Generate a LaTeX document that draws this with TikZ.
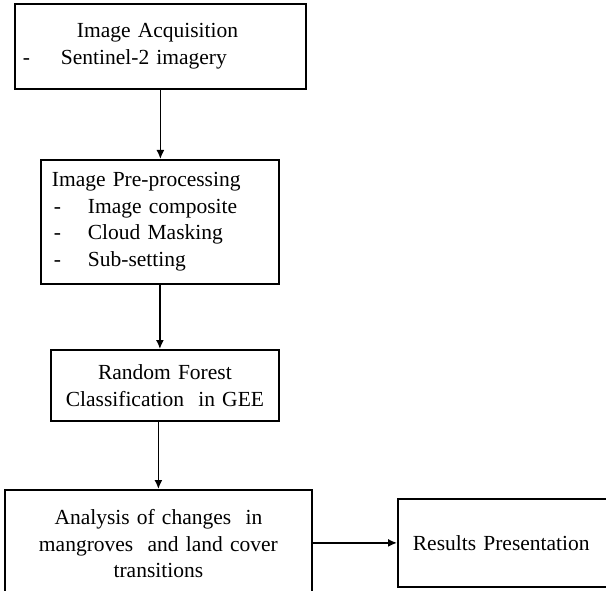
\documentclass[tikz,border=0pt]{standalone}
\usepackage{fontspec}
\setmainfont{Liberation Serif}
\usetikzlibrary{arrows.meta}
\tikzset{
  box/.style={draw, line width=1.8pt, inner ysep=0pt, anchor=north west,
    font=\fontsize{21.5pt}{26.5pt}\selectfont},
  arr/.style={line width=1.5pt, -{Latex[length=9pt,width=8pt]}}
}
\begin{document}
\begin{tikzpicture}[x=1pt,y=-1pt]
\useasboundingbox (0,0) rectangle (606,591);
\clip (0,0) rectangle (606,591);
\node[box, inner xsep=8pt, text width=275pt, minimum height=85pt, align=left] (b1) at (14,3)
  {\hspace*{54pt}Image Acquisition\\\makebox[38pt][l]{-}Sentinel-2 imagery};
\node[box, inner xsep=11pt, text width=216pt, minimum height=124pt, align=left] (b2) at (40,159)
  {Image Pre-processing\\
   \hspace*{2pt}\makebox[34pt][l]{-}Image composite\\
   \hspace*{2pt}\makebox[34pt][l]{-}Cloud Masking\\
   \hspace*{2pt}\makebox[34pt][l]{-}Sub-setting};
\node[box, inner xsep=0pt, text width=228pt, minimum height=71pt, align=center] (b3) at (50,349)
  {Random Forest\\Classification\ \ in GEE};
\node[box, inner xsep=0pt, text width=307pt, minimum height=108pt, align=center] (b4) at (4,489)
  {Analysis of changes\ \ in\\mangroves\ \ and land cover\\transitions};
\node[box, inner xsep=15pt, text width=200pt, minimum height=88pt, align=left] (b5) at (397,498)
  {Results Presentation};
\draw[arr] (b1.south) -- (b1.south |- b2.north);
\draw[arr] (b2.south) -- (b2.south |- b3.north);
\draw[arr] (b3.south -| b4.north) -- (b4.north);
\draw[arr] (b4.east |- b5.west) -- (b5.west);
\end{tikzpicture}
\end{document}
